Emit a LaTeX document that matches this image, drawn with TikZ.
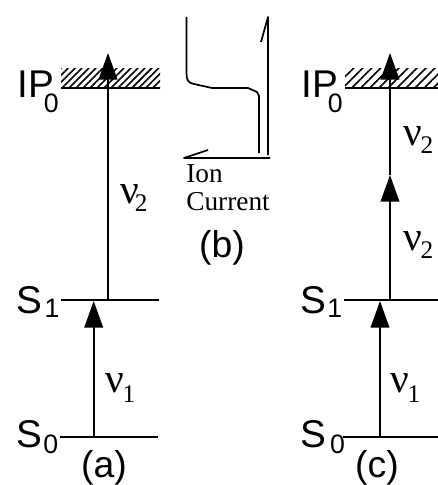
\documentclass[tikz,border=0pt]{standalone}
\usepackage{fontspec}
\setmainfont{Liberation Sans}
\newfontfamily\serifface{Liberation Serif}
\usetikzlibrary{arrows.meta,patterns.meta}
\newcommand{\lowsub}[3]{\kern#1pt\raisebox{-#2pt}{\fontsize{20}{20}\selectfont #3}}
\newcommand{\freq}[3]{{\serifface ν\kern#1pt\raisebox{-#2pt}{\fontsize{19}{20}\selectfont #3}}}
\tikzset{
  levelline/.style={line width=1.4pt},
  trace/.style={line width=1.3pt, line join=round},
  photon/.style={-{Triangle[width=14pt, length=20pt]}, line width=1.3pt},
  hatchband/.style={pattern={Lines[angle=45, distance=#1, line width=1.2pt]}, draw=none},
  levellabel/.style={anchor=base west, inner sep=0pt, font=\fontsize{29}{30}\selectfont},
  panellabel/.style={anchor=base, inner sep=0pt, font=\fontsize{28}{30}\selectfont},
  freqlabel/.style={anchor=base west, inner sep=0pt, font=\fontsize{31}{30}\selectfont},
  ionlabel/.style={anchor=base west, inner sep=0pt, font=\serifface\fontsize{20.5}{22}\selectfont}
}
\begin{document}
\begin{tikzpicture}[x=0.75pt, y=-0.75pt]
  \useasboundingbox (0,0) rectangle (438,485);

  % panel (a)
  \coordinate (ipaleft) at (61,88);
  \coordinate (iparight) at (160,88);
  \coordinate (ipatop) at (160,69);
  \coordinate (s1aleft) at (61,300);
  \coordinate (s1aright) at (159,300);
  \coordinate (s0aleft) at (60,437);
  \coordinate (s0aright) at (158,437);
  \coordinate (v2astart) at (108,300);
  \coordinate (v2aend) at (108,53);
  \coordinate (v1astart) at (93.7,437);
  \coordinate (v1aend) at (93.7,301);
  \fill[hatchband=3.7pt] (ipaleft) rectangle (ipatop);
  \draw[levelline] (ipaleft) -- (iparight);
  \draw[levelline] (s1aleft) -- (s1aright);
  \draw[levelline] (s0aleft) -- (s0aright);
  \draw[photon] (v2astart) -- (v2aend);
  \draw[photon] (v1astart) -- (v1aend);
  \node[levellabel] (ipa) at (17,98) {IP\lowsub{-7.5}{10.5}{0}};
  \node[levellabel] (s1a) at (16,313) {S\lowsub{2}{3.7}{1}};
  \node[levellabel] (s0a) at (16,447) {S\lowsub{1}{5}{0}};
  \node[freqlabel] (nu2a) at (120,203) {\freq{-3}{6.7}{2}};
  \node[freqlabel] (nu1a) at (105,392) {\freq{-1}{8}{1}};
  \node[panellabel] (laba) at (104,477) {(a)};

  % panel (b)
  \coordinate (ionstart) at (186.5,17);
  \coordinate (ionstop) at (259,153);
  \coordinate (upstart) at (268,155);
  \coordinate (uptip) at (268,17);
  \coordinate (upbarb) at (261,42);
  \coordinate (axisright) at (270,158);
  \coordinate (axistip) at (184,158);
  \coordinate (axisbarb) at (208,150);
  \draw[trace] (ionstart) -- (186.5,73) .. controls (186.5,80) and (188,83) .. (194,84)
    -- (203,86) -- (212,88) -- (248,88) -- (257,92) -- (259,96) -- (ionstop);
  \draw[trace] (upstart) -- (uptip) -- (upbarb);
  \draw[trace] (axisright) -- (axistip) -- (axisbarb);
  \node[ionlabel] (ion) at (186,182) {Ion};
  \node[ionlabel] (current) at (186,210) {Current};
  \node[panellabel] (labb) at (222,257) {(b)};

  % panel (c)
  \coordinate (ipcleft) at (345,88);
  \coordinate (ipcright) at (438,88);
  \coordinate (ipctop) at (438,69);
  \coordinate (s1cleft) at (344,300);
  \coordinate (s1cright) at (438,300);
  \coordinate (s0cleft) at (343,437);
  \coordinate (s0cright) at (438,437);
  \coordinate (v2cstart) at (390,300);
  \coordinate (v2cmid) at (390,175);
  \coordinate (v2cend) at (390,53);
  \coordinate (v1cstart) at (380,437);
  \coordinate (v1cend) at (380,301);
  \fill[hatchband=4.8pt] (ipcleft) rectangle (ipctop);
  \draw[levelline] (ipcleft) -- (ipcright);
  \draw[levelline] (s1cleft) -- (s1cright);
  \draw[levelline] (s0cleft) -- (s0cright);
  \draw[photon] (v2cstart) -- (v2cmid);
  \draw[photon] (v2cmid) -- (v2cend);
  \draw[photon] (v1cstart) -- (v1cend);
  \node[levellabel] (ipc) at (301,98) {IP\lowsub{-7.5}{10.5}{0}};
  \node[levellabel] (s1c) at (300,313) {S\lowsub{1}{3.7}{1}};
  \node[levellabel] (s0c) at (300,447) {S\lowsub{3}{5}{0}};
  \node[freqlabel] (nu2ctop) at (403,145) {\freq{-1}{6.7}{2}};
  \node[freqlabel] (nu2c) at (403,250) {\freq{-1}{6.7}{2}};
  \node[freqlabel] (nu1c) at (390,392) {\freq{-1}{8}{1}};
  \node[panellabel] (labc) at (377,477) {(c)};
\end{tikzpicture}
\end{document}
